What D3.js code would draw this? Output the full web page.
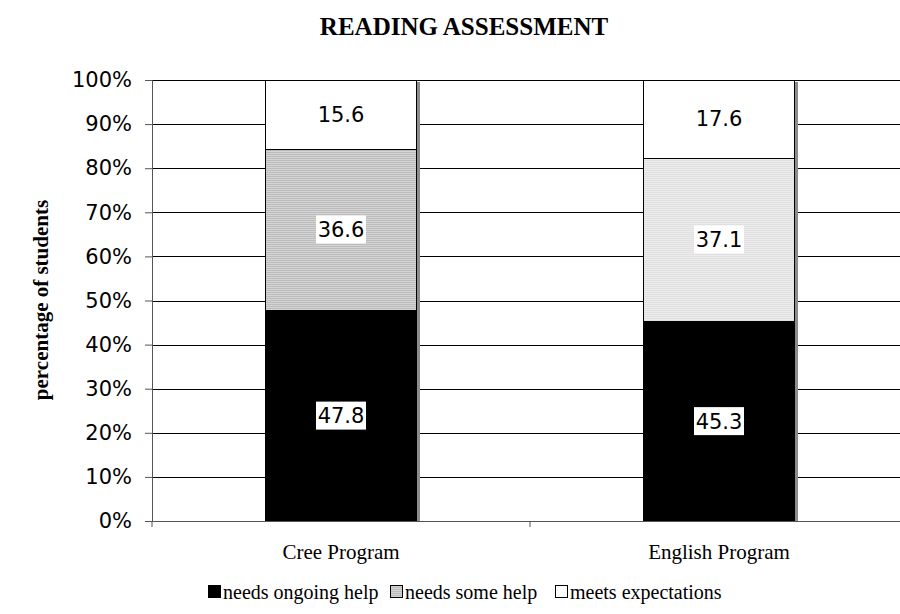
<html>
<head>
<style>
  body { margin: 0; background: white; }
  text { fill: black; }
</style>
</head>
<body>
<script src="https://d3js.org/d3.v7.min.js"></script>
<script>

var programs = ["Cree Program", "English Program"];
var levels = ["needs ongoing help", "needs some help", "meets expectations"];
var ongoing = [47.8, 45.3];
var someHelp = [36.6, 37.1];
var meets = [15.6, 17.6];
var yTicks = [0, 10, 20, 30, 40, 50, 60, 70, 80, 90, 100];

var width = 900, height = 614;
var plotLeft = 152, plotRight = 908, plotTop = 80, plotBottom = 521;

var svg = d3.select("body").append("svg")
  .attr("width", width)
  .attr("height", height);

// stripes for the "some help" fill
var defs = svg.append("defs");
function stripes(id, bg, line) {
  var p = defs.append("pattern")
    .attr("id", id)
    .attr("patternUnits", "userSpaceOnUse")
    .attr("width", 4).attr("height", 2);
  p.append("rect").attr("width", 4).attr("height", 2).attr("fill", bg);
  p.append("rect").attr("width", 4).attr("height", 1).attr("fill", line);
}
stripes("grayA", "#d4d4d4", "#bcbcbc");
stripes("grayB", "#ececec", "#e0e0e0");

var x = d3.scaleBand()
  .domain(programs)
  .range([plotLeft, plotRight])
  .paddingInner(0.6)
  .paddingOuter(0.3);

var y = d3.scaleLinear()
  .domain([0, 100])
  .range([plotBottom, plotTop]);

// gridlines
svg.append("g").selectAll("line").data(yTicks.slice(1))
  .enter().append("line")
    .attr("x1", plotLeft).attr("x2", width)
    .attr("y1", function(d) { return Math.round(y(d)) + 0.5; })
    .attr("y2", function(d) { return Math.round(y(d)) + 0.5; })
    .attr("stroke", "#000")
    .attr("stroke-width", 1);

// stacked data
var rows = programs.map(function(p, i) {
  return { program: p, ongoing: ongoing[i], some: someHelp[i], meets: meets[i] };
});
var series = d3.stack().keys(["ongoing", "some", "meets"])(rows);

var fills = {
  ongoing: function() { return "#000"; },
  some: function(d, i) { return i == 0 ? "url(#grayA)" : "url(#grayB)"; },
  meets: function() { return "#fff"; }
};

var barW = Math.round(x.bandwidth());

// shadows on the right of each bar
svg.append("g").selectAll("rect").data(rows)
  .enter().append("rect")
    .attr("x", function(d) { return Math.round(x(d.program)) + barW + 1; })
    .attr("y", Math.round(y(100)) + 2)
    .attr("width", 3)
    .attr("height", plotBottom - Math.round(y(100)) - 2)
    .attr("fill", "#8c8c8c");

var segs = svg.append("g").selectAll("g").data(series)
  .enter().append("g");

segs.selectAll("rect").data(function(s) {
    return s.map(function(d, i) { return { key: s.key, i: i, d: d }; });
  })
  .enter().append("rect")
    .attr("x", function(d) { return Math.round(x(d.d.data.program)) + 0.5; })
    .attr("y", function(d) { return Math.round(y(d.d[1])) + 0.5; })
    .attr("width", barW)
    .attr("height", function(d) { return Math.round(y(d.d[0])) - Math.round(y(d.d[1])); })
    .attr("fill", function(d) { return fills[d.key](d, d.i); })
    .attr("stroke", "#000")
    .attr("stroke-width", 1);

// value labels with white boxes
var labels = [];
series.forEach(function(s) {
  s.forEach(function(d) {
    labels.push({ program: d.data.program, mid: (d[0] + d[1]) / 2, value: d[1] - d[0] });
  });
});
var lab = svg.append("g").selectAll("g").data(labels)
  .enter().append("g")
    .attr("transform", function(d) {
      return "translate(" + (x(d.program) + x.bandwidth() / 2) + "," + y(d.mid) + ")";
    });
lab.append("rect")
  .attr("x", -25).attr("y", -14)
  .attr("width", 50).attr("height", 28)
  .attr("fill", "#fff");
lab.append("text")
  .attr("text-anchor", "middle")
  .attr("dy", "0.36em")
  .style("font-family", "DejaVu Sans")
  .style("font-size", "21px")
  .text(function(d) { return d3.format(".1f")(d.value); });

// y axis
var yAxis = d3.axisLeft(y)
  .tickValues(yTicks)
  .tickSize(7)
  .tickPadding(13)
  .tickFormat(function(d) { return d + "%"; });
var ya = svg.append("g")
  .attr("transform", "translate(" + plotLeft + ",0)")
  .call(yAxis);
ya.select(".domain").attr("stroke", "#555");
ya.selectAll(".tick line").attr("stroke", "#555");
ya.selectAll("text")
  .style("font-family", "DejaVu Sans")
  .style("font-size", "21px");

// x axis
svg.append("line")
  .attr("x1", plotLeft - 7).attr("x2", width)
  .attr("y1", plotBottom + 0.5).attr("y2", plotBottom + 0.5)
  .attr("stroke", "#555");
svg.append("line")
  .attr("x1", plotLeft).attr("x2", plotLeft)
  .attr("y1", plotBottom).attr("y2", plotBottom + 6)
  .attr("stroke", "#555");
svg.append("line")
  .attr("x1", (plotLeft + plotRight) / 2).attr("x2", (plotLeft + plotRight) / 2)
  .attr("y1", plotBottom).attr("y2", plotBottom + 6)
  .attr("stroke", "#555");

svg.append("g").selectAll("text").data(programs)
  .enter().append("text")
    .attr("x", function(d) { return x(d) + x.bandwidth() / 2; })
    .attr("y", 559)
    .attr("text-anchor", "middle")
    .style("font-family", "Liberation Serif")
    .style("font-size", "21px")
    .text(function(d) { return d; });

// title
svg.append("text")
  .attr("x", 464).attr("y", 35)
  .attr("text-anchor", "middle")
  .style("font-family", "Liberation Serif")
  .style("font-weight", "bold")
  .style("font-size", "25px")
  .text("READING ASSESSMENT");

svg.append("text")
  .attr("transform", "translate(48,300) rotate(-90)")
  .attr("text-anchor", "middle")
  .style("font-family", "Liberation Serif")
  .style("font-weight", "bold")
  .style("font-size", "21px")
  .text("percentage of students");

// legend
var legendX = [208, 390, 555];
var legendFill = ["#000", "url(#grayA)", "#fff"];
var lg = svg.append("g").selectAll("g").data(levels)
  .enter().append("g")
    .attr("transform", function(d, i) { return "translate(" + legendX[i] + ",585)"; });
lg.append("rect")
  .attr("x", 0.5).attr("y", 0.5)
  .attr("width", 12).attr("height", 12)
  .attr("fill", function(d, i) { return legendFill[i]; })
  .attr("stroke", "#000");
lg.append("text")
  .attr("x", 15).attr("y", 14)
  .style("font-family", "Liberation Serif")
  .style("font-size", "20px")
  .text(function(d) { return d; });

</script>
</body>
</html>
